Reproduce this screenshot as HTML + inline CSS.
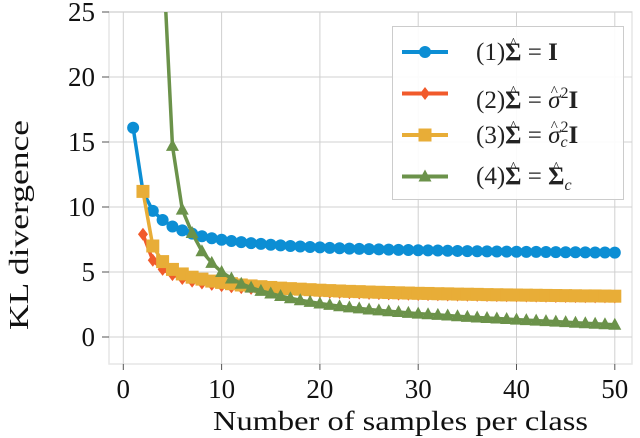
<!DOCTYPE html>
<html><head><meta charset="utf-8"><style>
body{margin:0;background:#fff;width:640px;height:438px;overflow:hidden;font-family:"Liberation Serif",serif;}
.lg{position:absolute;font-size:25px;color:#222;white-space:nowrap;line-height:30px;}
.lg b{font-weight:bold;}
.h{position:relative;display:inline-block;}
.h::before{content:"^";position:absolute;left:0;right:0;top:-9px;text-align:center;font-size:15px;font-weight:normal;font-style:normal;}
.ss{display:inline-block;vertical-align:middle;line-height:15px;font-size:16px;text-align:left;margin-top:-4px;}
.sp{font-size:16px;vertical-align:10px;}
.sb{font-size:16px;vertical-align:-6px;}
</style></head><body>
<svg id="c" width="640" height="438" style="position:absolute;left:0;top:0"></svg>
<div style="position:absolute;left:392px;top:26px;width:230px;height:172px;border:1px solid #ccc;background:rgba(255,255,255,0.9);"></div>
<svg width="640" height="438" style="position:absolute;left:0;top:0" id="lgs"></svg>
<div class="lg" style="left:476px;top:38px">(1)<b class="h">Σ</b> = <b>I</b></div>
<div class="lg" style="left:476px;top:79px">(2)<b class="h">Σ</b> = <i class="h">σ</i><span class="sp">2</span><b>I</b></div>
<div class="lg" style="left:476px;top:121px">(3)<b class="h">Σ</b> = <i class="h">σ</i><span class="ss">2<br><i>c</i></span><b>I</b></div>
<div class="lg" style="left:476px;top:162px">(4)<b class="h">Σ</b> = <b class="h">Σ</b><i class="sb">c</i></div>
<script>
const xTicks=[0,10,20,30,40,50];
const yTicks=[0,5,10,15,20,25];
const blueY=[16.1,11.2,9.7,9.0,8.5,8.2,7.95,7.75,7.6,7.48,7.38,7.3,7.22,7.16,7.1,7.05,7.0,6.96,6.92,6.89,6.86,6.83,6.8,6.78,6.76,6.74,6.72,6.7,6.69,6.67,6.66,6.65,6.63,6.62,6.61,6.6,6.59,6.58,6.57,6.56,6.55,6.55,6.54,6.53,6.52,6.52,6.51,6.5,6.5,6.49];
const redY=[7.9,5.9,5.2,4.8,4.5,4.3,4.15,4.05,3.95,3.87,3.8,3.74,3.69,3.64,3.6,3.56,3.53,3.5,3.47,3.44,3.42,3.4,3.38,3.36,3.34,3.32,3.3,3.29,3.27,3.26,3.25,3.23,3.22,3.21,3.2,3.19,3.18,3.17,3.16,3.15,3.14,3.13,3.12,3.12,3.11,3.1,3.09,3.09,3.08];
const yellowY=[11.2,7.0,5.8,5.2,4.85,4.6,4.45,4.3,4.2,4.1,4.0,3.93,3.87,3.81,3.76,3.72,3.68,3.64,3.6,3.57,3.54,3.51,3.49,3.46,3.44,3.42,3.4,3.38,3.36,3.35,3.33,3.32,3.3,3.29,3.28,3.26,3.25,3.24,3.23,3.22,3.21,3.2,3.19,3.18,3.17,3.16,3.16,3.15,3.14];
const greenY=[30,14.7,9.8,8.0,6.6,5.7,5.0,4.5,4.1,3.8,3.55,3.35,3.15,2.98,2.83,2.7,2.58,2.47,2.37,2.28,2.2,2.12,2.05,1.98,1.92,1.86,1.8,1.75,1.7,1.65,1.6,1.55,1.5,1.46,1.42,1.38,1.34,1.3,1.26,1.22,1.18,1.14,1.1,1.06,1.02,0.98,0.94];
const NS="http://www.w3.org/2000/svg";
const svg=document.getElementById('c');
const L=109,R=632,T=12,B=364;
const sx=v=>123.3+v*9.83, sy=v=>337-v*13;
function mk(t,a,p){const e=document.createElementNS(NS,t);for(const k in a)e.setAttribute(k,a[k]);(p||svg).appendChild(e);return e;}
const frame=mk('rect',{x:L,y:T,width:R-L,height:B-T,fill:'none',stroke:'#e6e6e6','stroke-width':1.5});


xTicks.forEach(v=>{
  const g=mk('line',{x1:sx(v),x2:sx(v),y1:T,y2:B,stroke:'#d0d0d0','stroke-width':1});
  
  
  mk('line',{x1:sx(v),x2:sx(v),y1:B,y2:B+6,stroke:'#555','stroke-width':1});
  const t=mk('text',{x:sx(v),y:398,'text-anchor':'middle','font-size':27,'font-family':'Liberation Serif, serif',fill:'#111'});
  t.textContent=v;
  
  
});
yTicks.forEach(v=>{
  const g=mk('line',{x1:L,x2:R,y1:sy(v),y2:sy(v),stroke:'#d0d0d0','stroke-width':1});
  
  
  mk('line',{x1:L-7,x2:L,y1:sy(v),y2:sy(v),stroke:'#555','stroke-width':1});
  const t=mk('text',{x:95,y:sy(v)+9,'text-anchor':'end','font-size':27,'font-family':'Liberation Serif, serif',fill:'#111'});
  t.textContent=v;
  
  
});
const xl=mk('text',{x:213,y:430,'font-size':27,'font-family':'Liberation Serif, serif',fill:'#111',textLength:375,lengthAdjust:'spacingAndGlyphs'});
xl.textContent='Number of samples per class';


const yl=mk('text',{x:0,y:0,'font-size':27,'font-family':'Liberation Serif, serif',fill:'#111',textLength:210,lengthAdjust:'spacingAndGlyphs',transform:'translate(28,330) rotate(-90)'});
yl.textContent='KL divergence';


const cp=mk('clipPath',{id:'clp'});
mk('rect',{x:L,y:T,width:R-L,height:B-T},cp);
function marker(p,type,x,y,col){
  let e;
  if(type==='circle')e=mk('circle',{cx:x,cy:y,r:6,fill:col},p);
  else if(type==='diamond')e=mk('polygon',{points:`${x},${y-6.5} ${x+5},${y} ${x},${y+6.5} ${x-5},${y}`,fill:col},p);
  else if(type==='square')e=mk('rect',{x:x-6.5,y:y-6.5,width:13,height:13,fill:col},p);
  else e=mk('polygon',{points:`${x},${y-7} ${x+6.5},${y+5} ${x-6.5},${y+5}`,fill:col},p);
  return e;
}
const series=[
 {name:'series-1',ys:blueY,col:'#0c8ed4',m:'circle',x0:1},
 {name:'series-2',ys:redY,col:'#f15a2b',m:'diamond',x0:2},
 {name:'series-3',ys:yellowY,col:'#e8ad37',m:'square',x0:2},
 {name:'series-4',ys:greenY,col:'#6b924a',m:'triangle',x0:4},
];
series.forEach((s,i)=>{
  const g=mk('g',{'clip-path':'url(#clp)'});
  
  
  const pts=s.ys.map((v,j)=>[sx(s.x0+j),sy(v)]);
  const pl=mk('polyline',{points:pts.map(p=>p.join(',')).join(' '),fill:'none',stroke:s.col,'stroke-width':3.5},g);
  
  
  pts.forEach(p=>{const e=marker(g,s.m,p[0],p[1],s.col);
    
    });
});
const lg=document.getElementById('lgs');
series.forEach((s,i)=>{
  const y=52+i*41.5;
  const l=mk('line',{x1:402,x2:448,y1:y,y2:y,stroke:s.col,'stroke-width':4},lg);
  
  
  marker(lg,s.m,425,y,s.col);
});
</script>
</body></html>
